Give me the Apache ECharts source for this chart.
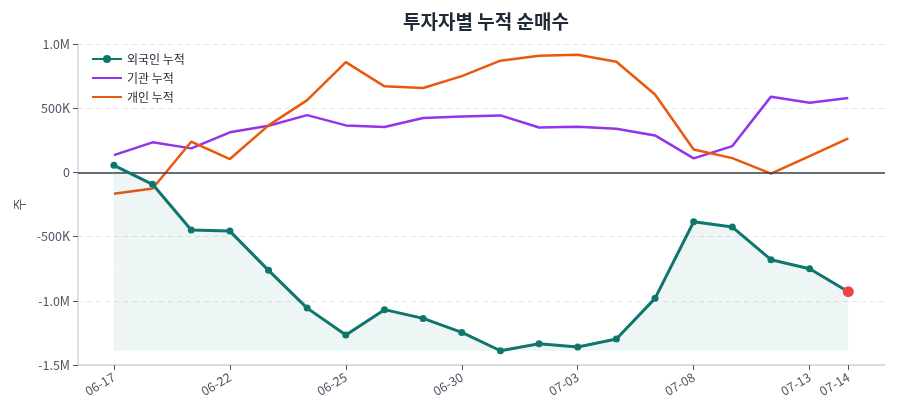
<!DOCTYPE html>
<html>
<head>
<meta charset="utf-8">
<script src="https://cdn.jsdelivr.net/npm/echarts@6/dist/echarts.min.js"></script>
<style>
  html, body { margin: 0; padding: 0; background: #fff; }
  #chart { width: 900px; height: 420px; }
</style>
</head>
<body>
<div id="chart"></div>
<script>
// 거래일
var dates = ['06-17', '06-18', '06-19', '06-22', '06-23', '06-24', '06-25', '06-26', '06-29', '06-30',
  '07-01', '07-02', '07-03', '07-06', '07-07', '07-08', '07-09', '07-10', '07-13', '07-14'];
// 누적 순매수 (주)
var foreign = [55000, -93000, -449000, -457000, -763000, -1057000, -1267000, -1069000, -1137000, -1246000,
  -1389000, -1334000, -1360000, -1298000, -981000, -384000, -426000, -680000, -750000, -929000];
var institution = [135000, 234000, 187000, 312000, 363000, 446000, 366000, 353000, 423000, 436000,
  444000, 350000, 356000, 340000, 288000, 109000, 205000, 590000, 543000, 579000];
var individual = [-166000, -125000, 239000, 104000, 366000, 563000, 859000, 670000, 657000, 750000,
  870000, 909000, 916000, 862000, 607000, 179000, 111000, -10000, 127000, 265000];
var tickIdx = [0, 3, 6, 9, 12, 15, 18, 19];

var font = '"Noto Sans CJK KR", "Noto Sans", sans-serif';

function pairs(arr) {
  return arr.map(function (v, i) { return [i, v]; });
}
function fmt(v) {
  if (v === 0) return '0';
  if (Math.abs(v) >= 1000000) return (v / 1000000).toFixed(1) + 'M';
  return (v / 1000) + 'K';
}

var foreignData = pairs(foreign);
var last = foreignData.length - 1;
foreignData[last] = {
  value: foreignData[last],
  symbolSize: 11,
  itemStyle: { color: '#ef4444', borderWidth: 0 }
};

var myChart = echarts.init(document.getElementById('chart'));
myChart.setOption({
  animation: false,
  textStyle: { fontFamily: font },
  title: {
    text: '투자자별 누적 순매수',
    left: 481,
    textAlign: 'center',
    top: 7,
    textStyle: { fontSize: 19, fontWeight: 'bold', color: '#1f2937', fontFamily: font }
  },
  legend: {
    orient: 'vertical',
    left: 86,
    top: 48,
    itemWidth: 30,
    itemHeight: 10,
    itemGap: 7,
    textStyle: { fontSize: 12, color: '#1f2937', fontFamily: font },
    data: [
      { name: '외국인 누적' },
      { name: '기관 누적', itemStyle: { opacity: 0 } },
      { name: '개인 누적', itemStyle: { opacity: 0 } }
    ]
  },
  grid: { left: 78, right: 15, top: 44, bottom: 55 },
  xAxis: {
    type: 'value',
    min: -0.93,
    max: 19.95,
    splitLine: { show: false },
    axisLine: { show: true, onZero: false, lineStyle: { color: '#d1d5db', width: 1.5 } },
    axisTick: { show: true, customValues: tickIdx, length: 5, lineStyle: { color: '#4b5563' } },
    axisLabel: {
      customValues: tickIdx,
      rotate: 30,
      margin: 11,
      fontSize: 12.5,
      color: '#4b5563',
      fontFamily: font,
      formatter: function (v) { return dates[Math.round(v)]; }
    }
  },
  yAxis: {
    type: 'value',
    min: -1500000,
    max: 1000000,
    interval: 500000,
    name: '주',
    nameLocation: 'middle',
    nameGap: 50,
    nameTextStyle: { fontSize: 13, color: '#4b5563', fontFamily: font },
    axisLine: { show: true, onZero: false, lineStyle: { color: '#d1d5db', width: 1.5 } },
    axisTick: { show: true, length: 5, lineStyle: { color: '#4b5563' } },
    axisLabel: { fontSize: 12.5, color: '#4b5563', fontFamily: font, formatter: fmt },
    splitLine: { show: true, lineStyle: { color: '#e5e7eb', type: [5, 4] } }
  },
  series: [
    {
      name: '외국인 누적',
      type: 'line',
      data: foreignData,
      symbol: 'circle',
      symbolSize: 7,
      z: 5,
      lineStyle: { color: '#0f766e', width: 3 },
      itemStyle: { color: '#0f766e' },
      areaStyle: { color: 'rgba(15,118,110,0.1)', origin: Math.min.apply(null, foreign) },
      markLine: {
        silent: true,
        symbol: 'none',
        label: { show: false },
        lineStyle: { color: '#374151', width: 1.5, type: 'solid' },
        data: [{ yAxis: 0 }]
      }
    },
    {
      name: '기관 누적',
      type: 'line',
      data: pairs(institution),
      symbol: 'none',
      lineStyle: { color: '#9333ea', width: 2.5 },
      itemStyle: { color: '#9333ea' }
    },
    {
      name: '개인 누적',
      type: 'line',
      data: pairs(individual),
      symbol: 'none',
      lineStyle: { color: '#ea580c', width: 2.5 },
      itemStyle: { color: '#ea580c' }
    }
  ]
});
</script>
</body>
</html>
